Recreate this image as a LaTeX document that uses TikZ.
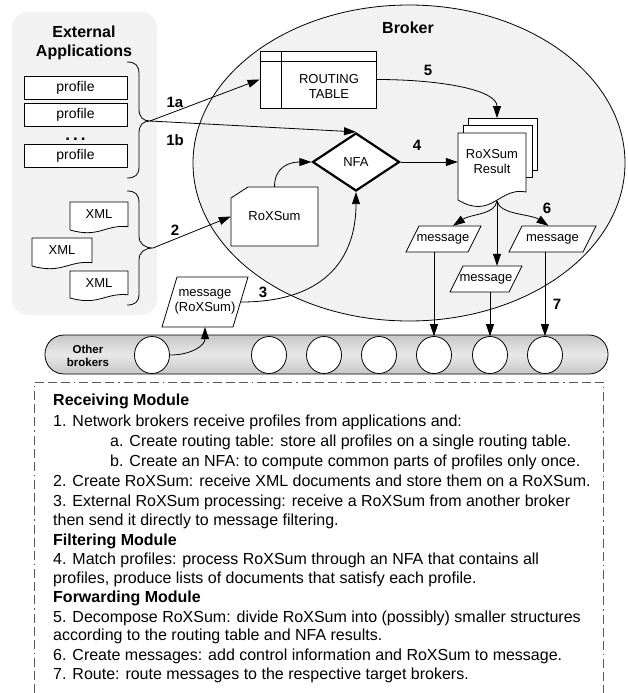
\documentclass[tikz,border=0pt]{standalone}
\usepackage{fontspec}
\setmainfont{Liberation Sans}
\usetikzlibrary{arrows.meta,shapes.geometric,calc}
\newcommand{\docshape}[4]{%
  \draw[ln,fill=white] (#1,#2) -- (#3,#2) -- (#3,{#4-0.12*(#4-#2)})
    .. controls ({#1+0.6*(#3-#1)},{#4-0.2*(#4-#2)}) and ({#1+0.5*(#3-#1)},{#4+0.3*(#4-#2)}) .. (#1,#4) -- cycle;}
\begin{document}
\begin{tikzpicture}[x=1pt,y=-1pt,
  ln/.style={line width=0.8pt},
  arr/.style={line width=0.8pt,-{Triangle[length=12pt,width=8pt]}},
  lbl/.style={font=\fontsize{15}{15}\selectfont\bfseries, inner sep=0pt},
  smalltxt/.style={font=\fontsize{13}{15}\selectfont, align=center, inner sep=0pt},
  prof/.style={draw, ln, fill=white, minimum width=103pt, minimum height=23pt, inner sep=0pt, font=\fontsize{14}{16}\selectfont},
  brk/.style={draw, ln, fill=white, ellipse, minimum width=35pt, minimum height=37pt, inner sep=0pt},
  nfabox/.style={draw, diamond, aspect=1.5, line width=2.2pt, fill=white, minimum width=87pt, minimum height=58pt, inner sep=0pt, font=\fontsize{13}{15}\selectfont},
  txt/.style={font=\fontsize{16}{19}\selectfont, inner sep=0pt, anchor=base west},
  boxline/.style={line width=0.8pt, black!65, dash pattern=on 9pt off 4pt on 9pt off 4pt on 9pt off 4pt on 1.5pt off 4pt},
  bgfill/.style={fill=black!5}
]
\useasboundingbox (0,0) rectangle (627,693);

% backgrounds
\fill[bgfill, rounded corners=16pt] (12,12) rectangle (157,315);
\draw[ln, bgfill] (409,163) ellipse [x radius=216pt, y radius=158pt];
\node[draw, ln, rounded corners=19pt, minimum width=563pt, minimum height=39pt,
      shading=axis, top color=black!22, bottom color=black!22, middle color=black!9] (ob) at (326.5,354.5) {};
\node[font=\fontsize{11.5}{13}\selectfont\bfseries, align=center, inner sep=0pt] (obtext) at (88,356) {Other\\brokers};

% titles
\node[font=\fontsize{16}{19}\selectfont\bfseries, align=center, inner sep=0pt] (ext) at (84,42.5) {External\\Applications};
\node[font=\fontsize{16}{19}\selectfont\bfseries, inner sep=0pt] (broker) at (408,28) {Broker};

% profiles
\node[prof] (p1) at (75.5,87.5) {profile};
\node[prof] (p2) at (75.5,114.5) {profile};
\node[font=\fontsize{17}{17}\selectfont\bfseries, inner sep=0pt, anchor=base] (dots) at (75.5,140) {.\hspace{3pt}.\hspace{3pt}.};
\node[prof] (p3) at (75.5,156) {profile};

% XML documents
\docshape{70}{202}{128}{230}
\node[smalltxt] (x1) at (99,214) {XML};
\docshape{32}{238}{92}{266}
\node[smalltxt] (x2) at (62,250) {XML};
\docshape{70}{271}{128}{298}
\node[smalltxt] (x3) at (99,283) {XML};

% braces
\coordinate (br1) at (150,121);
\coordinate (br2) at (153,248);
\draw[ln] (127,62) .. controls (135,62) and (139,65) .. (139,74) -- (139,109)
  .. controls (139,117) and (143,121) .. (br1)
  .. controls (143,121) and (139,125) .. (139,133) -- (139,167)
  .. controls (139,175) and (135,178) .. (127,178);
\draw[ln] (127,191) .. controls (135,191) and (139,194) .. (139,203) -- (139,236)
  .. controls (139,244) and (145,248) .. (br2)
  .. controls (145,248) and (139,252) .. (139,260) -- (139,294)
  .. controls (139,302) and (135,305) .. (127,305);

% routing table
\node[draw, ln, fill=white, minimum width=116pt, minimum height=57pt, inner sep=0pt] (rt) at (318,79.5) {};
\draw[ln] ($(rt.north west)+(0,11)$) -- ($(rt.north east)+(0,11)$);
\draw[ln] ($(rt.north west)+(22,0)$) -- ($(rt.south west)+(22,0)$);
\node[smalltxt] (rttext) at (329,86.5) {ROUTING\\TABLE};

% NFA
\node[nfabox] (nfa) at (356,162) {NFA};

% RoXSum
\draw[ln, fill=white] (231,198) -- (248,187) -- (318,187) -- (318,246) -- (231,246) -- cycle;
\node[smalltxt, minimum width=87pt, minimum height=59pt] (rox) at (274.5,216.5) {RoXSum};

% RoXSum Result
\draw[ln, fill=white] (468,118) rectangle (537,170);
\draw[ln, fill=white] (463,125) rectangle (532,177);
\docshape{458}{133}{526}{200}
\node[smalltxt, minimum width=68pt, minimum height=58pt] (res) at (492,162) {RoXSum\\Result};
\coordinate (r3top) at (497,118);
\coordinate (rb) at (497,201);

% messages
\draw[ln, fill=white] (419,226) -- (481,226) -- (468,252) -- (406,252) -- cycle;
\node[smalltxt, minimum width=60pt, minimum height=26pt] (m1) at (443,239) {message};
\draw[ln, fill=white] (463,266) -- (522,266) -- (509,292) -- (450,292) -- cycle;
\node[smalltxt, minimum width=58pt, minimum height=26pt] (m2) at (486,279) {message};
\draw[ln, fill=white] (522,226) -- (596,226) -- (583,252) -- (509,252) -- cycle;
\node[smalltxt, minimum width=72pt, minimum height=26pt] (m3) at (552.5,239) {message};
\draw[ln, fill=white] (177,277) -- (248,277) -- (233,327) -- (162,327) -- cycle;
\node[smalltxt, minimum width=72pt, minimum height=50pt] (mr) at (205,302) {message\\(RoXSum)};

% other brokers
\node[brk] (b1) at (152,355) {};
\node[brk] (b2) at (269,355) {};
\node[brk] (b3) at (324,355) {};
\node[brk] (b4) at (379,355) {};
\node[brk] (b5) at (434,355) {};
\node[brk] (b6) at (490,355) {};
\node[brk] (b7) at (545,355) {};

% connectors
\draw[arr] (br1) -- (rt.west);
\draw[arr] (br1) -- (nfa.north);
\draw[arr] (br2) -- (rox.west);
\draw[arr] (rox.north) .. controls +(0,-20) and +(-22,0) .. (nfa.west);
\draw[arr] (mr.east) .. controls +(80,0) and +(0,70) .. (nfa.south);
\draw[arr] (b1.east) .. controls +(22,0) and +(0,18) .. (mr.south);
\draw[arr] (nfa.east) -- (nfa.east -| res.west);
\draw[arr] (rt.east) .. controls +(65,0) and +(0,-28) .. (r3top);
\draw[arr] (rb) .. controls +(-2,14) and +(18,-12) .. ([xshift=10pt]m1.north);
\draw[arr] (rb) -- (rb |- m2.north);
\draw[arr] (rb) .. controls +(3,14) and +(-18,-12) .. ([xshift=-4pt]m3.north);
\draw[arr] (m1.south -| b5) -- (b5.north);
\draw[arr] (m2.south -| b6) -- (b6.north);
\draw[arr] (m3.south -| b7) -- (b7.north);

% step labels
\node[lbl] (l1a) at (175,102) {1a};
\node[lbl] (l1b) at (175,140) {1b};
\node[lbl] (l2) at (175,230) {2};
\node[lbl] (l3) at (263,292) {3};
\node[lbl] (l4) at (417,145) {4};
\node[lbl] (l5) at (428,70) {5};
\node[lbl] (l6) at (547,208) {6};
\node[lbl] (l7) at (557,304) {7};

% description box
\draw[boxline] (34,693) -- (34,382) -- (603,382) -- (603,693);
\node[txt] (t1) at (53,405.5) {\bfseries Receiving Module};
\node[txt] (t2) at (53,426) {1. Network brokers receive profiles from applications and:};
\node[txt] (t3) at (110,446.5) {a. Create routing table: store all profiles on a single routing table.};
\node[txt] (t4) at (110,466.5) {b. Create an NFA: to compute common parts of profiles only once.};
\node[txt] (t5) at (53,486.5) {2. Create RoXSum: receive XML documents and store them on a RoXSum.};
\node[txt] (t6) at (53,506.5) {3. External RoXSum processing: receive a RoXSum from another broker};
\node[txt] (t7) at (53,525) {then send it directly to message filtering.};
\node[txt] (t8) at (53,545) {\bfseries Filtering Module};
\node[txt] (t9) at (53,564.5) {4. Match profiles: process RoXSum through an NFA that contains all};
\node[txt] (t10) at (53,583) {profiles, produce lists of documents that satisfy each profile.};
\node[txt] (t11) at (53,602.5) {\bfseries Forwarding Module};
\node[txt] (t12) at (53,622) {5. Decompose RoXSum: divide RoXSum into (possibly) smaller structures};
\node[txt] (t13) at (53,640.5) {according to the routing table and NFA results.};
\node[txt] (t14) at (53,660) {6. Create messages: add control information and RoXSum to message.};
\node[txt] (t15) at (53,679) {7. Route: route messages to the respective target brokers.};
\end{tikzpicture}
\end{document}
